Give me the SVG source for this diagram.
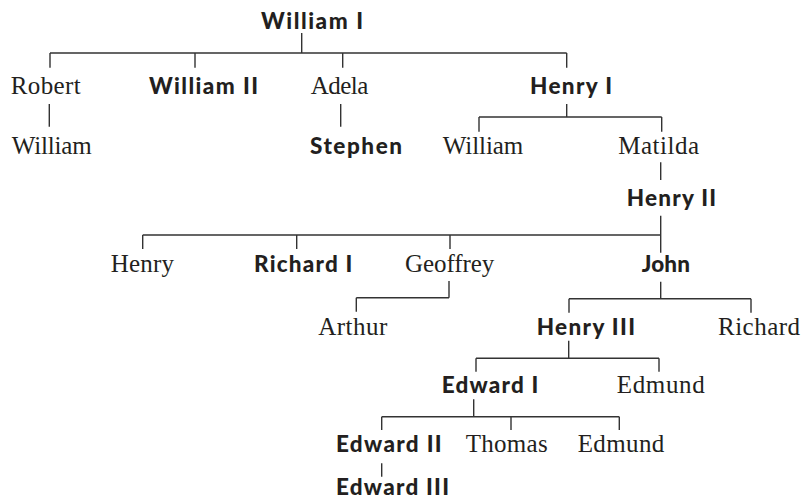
<svg xmlns="http://www.w3.org/2000/svg" width="801" height="499" viewBox="0 0 801 499">
  <style>
    .k { font-family: "Lato", "Open Sans", sans-serif; font-weight: 900; font-size: 22.5px; fill: #231f20; }
    .p { font-family: "Liberation Serif", "Times New Roman", serif; font-size: 25px; fill: #231f20; }
    .ln { fill: none; stroke: #333; stroke-width: 1.4; }
  </style>
  <rect width="801" height="499" fill="#fff"/>

  <!-- descent lines -->
  <g id="connectors" class="ln">
    <path d="M301.7,33 V53 M50,53 H566.7 M50,53 V67.7 M195,53 V67.7 M342.7,53 V67.7 M566.7,53 V67.7"/>
    <path d="M49.3,104 V126.7"/>
    <path d="M340.7,104 V126.7"/>
    <path d="M566.7,104 V117 M479,117 H661.7 M479,117 V131.7 M661.7,117 V131.7"/>
    <path d="M660.7,162.3 V180"/>
    <path d="M660.7,215.7 V252.7 M142.7,235 H660.7 M142.7,235 V249 M296.7,235 V249 M450,235 V249"/>
    <path d="M449,281 V297.7 M356.3,297.7 H449 M356.3,297.7 V311.7"/>
    <path d="M660.7,281.7 V298.7 M569,298.7 H751 M569,298.7 V312.7 M751,298.7 V312.7"/>
    <path d="M568.7,340.7 V358.3 M476,358.3 H659 M476,358.3 V371.7 M659,358.3 V371.7"/>
    <path d="M473.7,399.3 V416.7 M381.7,416.7 H619.3 M381.7,416.7 V430 M511,416.7 V430 M619.3,416.7 V430"/>
    <path d="M381.7,463.3 V476.7"/>
  </g>

  <!-- persons -->
  <g id="william-i"><text class="k" x="261" y="29" textLength="102">William I</text></g>
  <g id="robert"><text class="p" x="10.7" y="94" textLength="70">Robert</text></g>
  <g id="william-ii"><text class="k" x="149" y="94" textLength="109">William II</text></g>
  <g id="adela"><text class="p" x="310.7" y="94" textLength="57.6">Adela</text></g>
  <g id="henry-i"><text class="k" x="530" y="94" textLength="82">Henry I</text></g>
  <g id="william-robert"><text class="p" x="11.7" y="154" textLength="80">William</text></g>
  <g id="stephen"><text class="k" x="310" y="154" textLength="92">Stephen</text></g>
  <g id="william-henry"><text class="p" x="442.7" y="154" textLength="80.6">William</text></g>
  <g id="matilda"><text class="p" x="618.3" y="154" textLength="80.7">Matilda</text></g>
  <g id="henry-ii"><text class="k" x="626.7" y="206" textLength="89.3">Henry II</text></g>
  <g id="henry"><text class="p" x="110.7" y="272" textLength="63.3">Henry</text></g>
  <g id="richard-i"><text class="k" x="254" y="272" textLength="98.3">Richard I</text></g>
  <g id="geoffrey"><text class="p" x="405" y="272" textLength="89.3">Geoffrey</text></g>
  <g id="john"><text class="k" x="641.7" y="272" textLength="48.3">John</text></g>
  <g id="arthur"><text class="p" x="318.3" y="335" textLength="69">Arthur</text></g>
  <g id="henry-iii"><text class="k" x="536.7" y="335" textLength="98.3">Henry III</text></g>
  <g id="richard"><text class="p" x="718" y="335" textLength="82">Richard</text></g>
  <g id="edward-i"><text class="k" x="441.7" y="393.3" textLength="96.6">Edward I</text></g>
  <g id="edmund-henry"><text class="p" x="616.7" y="393.3" textLength="88">Edmund</text></g>
  <g id="edward-ii"><text class="k" x="336" y="451.7" textLength="105.7">Edward II</text></g>
  <g id="thomas"><text class="p" x="465.7" y="451.7" textLength="82">Thomas</text></g>
  <g id="edmund-edward"><text class="p" x="577.7" y="451.7" textLength="86.6">Edmund</text></g>
  <g id="edward-iii"><text class="k" x="336" y="495" textLength="113">Edward III</text></g>
</svg>
